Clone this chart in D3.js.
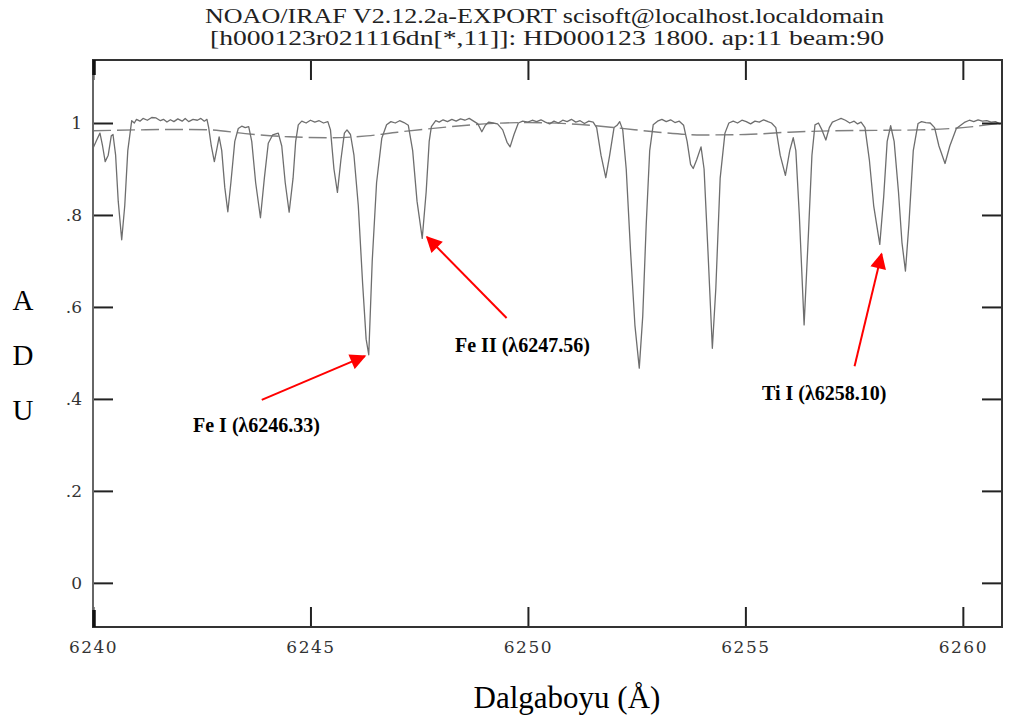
<!DOCTYPE html>
<html>
<head>
<meta charset="utf-8">
<script src="https://cdn.jsdelivr.net/npm/d3@7"></script>
<style>
  body { margin: 0; background: #fff; }
  svg { display: block; }
</style>
</head>
<body>
<div id="chart"></div>
<script>
// Spectrum (wavelength in Å, normalized flux).
const wavelengths = [
  6240.00, 6240.08, 6240.16, 6240.22, 6240.28, 6240.35, 6240.42, 6240.46, 6240.52, 6240.58,
  6240.66, 6240.73, 6240.80, 6240.89, 6240.95, 6241.00, 6241.08, 6241.15, 6241.25, 6241.35,
  6241.45, 6241.55, 6241.62, 6241.70, 6241.78, 6241.86, 6241.95, 6242.05, 6242.12, 6242.20,
  6242.30, 6242.40, 6242.48, 6242.56, 6242.62, 6242.66, 6242.72, 6242.79, 6242.85, 6242.90,
  6242.96, 6243.03, 6243.10, 6243.17, 6243.26, 6243.34, 6243.42, 6243.50, 6243.58, 6243.65,
  6243.74, 6243.85, 6243.94, 6244.03, 6244.13, 6244.26, 6244.34, 6244.42, 6244.51, 6244.60,
  6244.66, 6244.72, 6244.80, 6244.90, 6245.00, 6245.10, 6245.20, 6245.30, 6245.40, 6245.46,
  6245.54, 6245.62, 6245.70, 6245.78, 6245.84, 6245.92, 6246.00, 6246.10, 6246.20, 6246.28,
  6246.34, 6246.42, 6246.52, 6246.64, 6246.75, 6246.85, 6246.95, 6247.05, 6247.15, 6247.25,
  6247.35, 6247.45, 6247.57, 6247.66, 6247.73, 6247.78, 6247.88, 6247.96, 6248.05, 6248.15,
  6248.25, 6248.35, 6248.45, 6248.55, 6248.65, 6248.75, 6248.85, 6248.94, 6249.02, 6249.10,
  6249.20, 6249.30, 6249.42, 6249.52, 6249.59, 6249.68, 6249.78, 6249.88, 6250.00, 6250.10,
  6250.20, 6250.30, 6250.40, 6250.50, 6250.60, 6250.70, 6250.80, 6250.90, 6251.00, 6251.10,
  6251.20, 6251.30, 6251.40, 6251.50, 6251.58, 6251.68, 6251.79, 6251.88, 6251.98, 6252.05,
  6252.11, 6252.18, 6252.26, 6252.36, 6252.46, 6252.56, 6252.64, 6252.72, 6252.80, 6252.88,
  6252.98, 6253.08, 6253.18, 6253.28, 6253.38, 6253.48, 6253.58, 6253.66, 6253.74, 6253.80,
  6253.88, 6253.98, 6254.05, 6254.14, 6254.24, 6254.32, 6254.42, 6254.53, 6254.62, 6254.72,
  6254.82, 6254.92, 6255.02, 6255.12, 6255.22, 6255.32, 6255.42, 6255.52, 6255.60, 6255.70,
  6255.80, 6255.92, 6256.02, 6256.10, 6256.16, 6256.24, 6256.35, 6256.45, 6256.53, 6256.60,
  6256.68, 6256.76, 6256.85, 6256.93, 6257.00, 6257.10, 6257.20, 6257.30, 6257.40, 6257.50,
  6257.58, 6257.66, 6257.75, 6257.85, 6257.95, 6258.09, 6258.18, 6258.26, 6258.34, 6258.42,
  6258.52, 6258.60, 6258.68, 6258.76, 6258.86, 6258.97, 6259.05, 6259.15, 6259.25, 6259.35,
  6259.45, 6259.59, 6259.70, 6259.85, 6259.95, 6260.05, 6260.15, 6260.25, 6260.35, 6260.45,
  6260.55, 6260.65, 6260.75, 6260.85
];
const flux = [
  0.945, 0.962, 0.978, 0.950, 0.916, 0.930, 0.972, 0.975, 0.930, 0.830,
  0.746, 0.820, 0.940, 1.005, 1.000, 1.008, 1.004, 1.010, 1.006, 1.012,
  1.011, 1.005, 1.008, 1.002, 1.007, 1.003, 1.009, 1.004, 1.010, 1.003,
  1.008, 1.006, 1.010, 1.004, 1.008, 0.990, 0.950, 0.916, 0.945, 0.970,
  0.940, 0.860, 0.807, 0.870, 0.960, 0.988, 0.993, 0.990, 0.992, 0.960,
  0.870, 0.794, 0.880, 0.956, 0.974, 0.978, 0.950, 0.870, 0.806, 0.880,
  0.960, 0.996, 1.004, 1.000, 1.006, 1.002, 1.005, 1.000, 1.003, 0.985,
  0.900, 0.849, 0.920, 0.978, 0.985, 0.975, 0.930, 0.820, 0.650, 0.530,
  0.496, 0.700, 0.870, 0.967, 0.996, 1.003, 1.000, 1.005, 1.001, 0.995,
  0.940, 0.830, 0.749, 0.850, 0.960, 0.992, 1.005, 1.002, 1.007, 1.003,
  1.008, 1.004, 1.009, 1.006, 1.010, 1.004, 0.998, 0.981, 0.995, 1.002,
  1.000, 0.998, 0.985, 0.958, 0.948, 0.975, 1.000, 1.004, 1.002, 1.006,
  1.003, 1.007, 1.002, 0.998, 1.004, 1.000, 1.006, 1.003, 1.008, 1.002,
  1.005, 0.999, 1.004, 1.002, 0.990, 0.930, 0.881, 0.930, 0.990, 0.995,
  1.003, 0.985, 0.900, 0.720, 0.560, 0.467, 0.580, 0.780, 0.940, 0.996,
  1.004, 1.008, 1.003, 1.007, 1.001, 1.004, 0.995, 0.960, 0.910, 0.901,
  0.920, 0.948, 0.900, 0.720, 0.510, 0.640, 0.880, 0.978, 1.000, 1.004,
  1.000, 1.006, 1.003, 0.998, 1.004, 1.002, 1.007, 1.003, 1.000, 0.990,
  0.930, 0.886, 0.940, 0.968, 0.940, 0.800, 0.561, 0.760, 0.930, 0.996,
  1.000, 0.985, 0.963, 0.990, 1.002, 1.006, 1.010, 1.006, 1.000, 1.004,
  0.998, 1.002, 0.990, 0.920, 0.820, 0.736, 0.840, 0.960, 0.994, 0.960,
  0.850, 0.740, 0.678, 0.780, 0.940, 0.999, 1.003, 1.001, 1.000, 0.990,
  0.950, 0.912, 0.950, 0.988, 0.995, 1.002, 1.006, 1.003, 1.007, 1.004,
  1.005, 1.002, 1.003, 0.998
];

// Continuum fit (dashed curve).
const fitWavelengths = [6240.0, 6241.0, 6242.0, 6242.7, 6243.5, 6244.5, 6245.5, 6246.3, 6247.0, 6248.0,
  6249.0, 6250.0, 6251.0, 6252.0, 6253.0, 6254.0, 6255.0, 6256.0, 6257.0, 6258.0, 6259.0, 6260.0, 6260.9];
const fitFlux = [0.983, 0.985, 0.986, 0.985, 0.977, 0.970, 0.968, 0.972, 0.980, 0.990,
  0.998, 1.001, 0.998, 0.990, 0.980, 0.974, 0.975, 0.980, 0.983, 0.984, 0.985, 0.990, 1.000];

const xTicks = [6240, 6245, 6250, 6255, 6260];
const yTicks = [0, 0.2, 0.4, 0.6, 0.8, 1];
const yTickLabels = ["0", ".2", ".4", ".6", ".8", "1"];

// Line identifications: label, tip of the arrow and tail of the arrow (data units).
const lineLabels = ["Fe I (λ6246.33)", "Fe II (λ6247.56)", "Ti I (λ6258.10)"];
const arrowTips = [[6246.25, 0.493], [6247.68, 0.752], [6258.13, 0.715]];
const arrowTails = [[6243.88, 0.398], [6249.51, 0.576], [6257.51, 0.471]];

const width = 1010, height = 722;
const margin = { top: 60, right: 8, bottom: 95, left: 93 };
const plotW = width - margin.left - margin.right;
const plotH = height - margin.top - margin.bottom;

const svg = d3.select("#chart").append("svg")
  .attr("width", width)
  .attr("height", height);

const x = d3.scaleLinear().domain([6240, 6260.9]).range([0, plotW]);
const y = d3.scaleLinear().domain([-0.096, 1.137]).range([plotH, 0]);

const g = svg.append("g").attr("transform", `translate(${margin.left},${margin.top})`);

// Arrowhead marker.
svg.append("defs").append("marker")
  .attr("id", "arrow")
  .attr("viewBox", "0 0 10 10")
  .attr("refX", 9).attr("refY", 5)
  .attr("markerWidth", 9).attr("markerHeight", 8)
  .attr("markerUnits", "strokeWidth")
  .attr("orient", "auto")
  .append("path")
  .attr("d", "M0,0 L10,5 L0,10 Z")
  .attr("fill", "#ff0000");

// Title (two lines, IRAF style).
const title = svg.append("g")
  .attr("font-family", "'Liberation Serif', serif")
  .attr("font-size", 21)
  .attr("fill", "#222");
title.append("text").attr("x", 205).attr("y", 23)
  .attr("textLength", 679).attr("lengthAdjust", "spacingAndGlyphs")
  .text("NOAO/IRAF V2.12.2a-EXPORT scisoft@localhost.localdomain");
title.append("text").attr("x", 210).attr("y", 45)
  .attr("textLength", 674).attr("lengthAdjust", "spacingAndGlyphs")
  .text("[h000123r021116dn[*,11]]: HD000123 1800. ap:11 beam:90");

// Clip the curves to the frame.
g.append("clipPath").attr("id", "clip")
  .append("rect").attr("width", plotW).attr("height", plotH);

const fitLine = d3.line()
  .x((d, i) => x(fitWavelengths[i]))
  .y(d => y(d))
  .curve(d3.curveMonotoneX);

g.append("path")
  .attr("clip-path", "url(#clip)")
  .attr("d", fitLine(fitFlux))
  .attr("fill", "none")
  .attr("stroke", "#808080")
  .attr("stroke-width", 1.4)
  .attr("stroke-dasharray", "18,6");

const specLine = d3.line()
  .x((d, i) => x(wavelengths[i]))
  .y(d => y(d));

g.append("path")
  .attr("clip-path", "url(#clip)")
  .attr("d", specLine(flux))
  .attr("fill", "none")
  .attr("stroke", "#6e6e6e")
  .attr("stroke-width", 1.3)
  .attr("stroke-linejoin", "round");

// Axes: ticks drawn inward on all four sides.
const tickLen = 20;
const axisFont = "'DejaVu Serif', serif";

const bottomAxis = g.append("g")
  .attr("transform", `translate(0,${plotH})`)
  .call(d3.axisBottom(x).tickValues(xTicks).tickSize(-tickLen).tickPadding(14).tickFormat(d3.format("d")));
const topAxis = g.append("g")
  .call(d3.axisTop(x).tickValues(xTicks).tickSize(-tickLen).tickFormat(""));
const leftAxis = g.append("g")
  .call(d3.axisLeft(y).tickValues(yTicks).tickSize(-tickLen).tickPadding(11)
    .tickFormat((d, i) => yTickLabels[i]));
const rightAxis = g.append("g")
  .attr("transform", `translate(${plotW},0)`)
  .call(d3.axisRight(y).tickValues(yTicks).tickSize(-tickLen).tickFormat(""));

[bottomAxis, topAxis, leftAxis, rightAxis].forEach(ax => {
  ax.select(".domain").remove();
  ax.selectAll(".tick line").attr("stroke", "#222").attr("stroke-width", 2);
  ax.selectAll(".tick text")
    .attr("font-family", axisFont)
    .attr("font-size", 17)
    .attr("fill", "#333");
});
bottomAxis.selectAll(".tick text").attr("letter-spacing", 1.5);

// Frame; the left edge is lighter with short heavy pieces at its ends.
g.append("rect")
  .attr("width", plotW).attr("height", plotH)
  .attr("fill", "none")
  .attr("stroke", "#333")
  .attr("stroke-width", 2);
g.append("line")
  .attr("x1", 0).attr("x2", 0).attr("y1", 0).attr("y2", plotH)
  .attr("stroke", "#666").attr("stroke-width", 2);
[[0, 15], [plotH - 17, plotH]].forEach(([a, b]) => {
  g.append("line")
    .attr("x1", 1).attr("x2", 1).attr("y1", a).attr("y2", b)
    .attr("stroke", "#111").attr("stroke-width", 3.5);
});

// Axis titles.
svg.append("text")
  .attr("x", 567).attr("y", 708)
  .attr("text-anchor", "middle")
  .attr("font-family", "'Liberation Serif', 'Times New Roman', serif")
  .attr("font-size", 31)
  .attr("fill", "#000")
  .text("Dalgaboyu (Å)");

["A", "D", "U"].forEach((ch, i) => {
  svg.append("text")
    .attr("x", 23).attr("y", 310 + i * 55)
    .attr("text-anchor", "middle")
    .attr("font-family", "'Liberation Serif', 'Times New Roman', serif")
    .attr("font-size", 29)
    .attr("fill", "#000")
    .text(ch);
});

// Line identifications.
const labelPos = [[193, 432], [455, 352], [762, 400]];
lineLabels.forEach((label, i) => {
  g.append("line")
    .attr("x1", x(arrowTails[i][0])).attr("y1", y(arrowTails[i][1]))
    .attr("x2", x(arrowTips[i][0])).attr("y2", y(arrowTips[i][1]))
    .attr("stroke", "#ff0000")
    .attr("stroke-width", 2)
    .attr("marker-end", "url(#arrow)");
  svg.append("text")
    .attr("x", labelPos[i][0]).attr("y", labelPos[i][1])
    .attr("font-family", "'Liberation Serif', 'Times New Roman', serif")
    .attr("font-weight", "bold")
    .attr("font-size", 20)
    .attr("fill", "#000")
    .text(label);
});
</script>
</body>
</html>
